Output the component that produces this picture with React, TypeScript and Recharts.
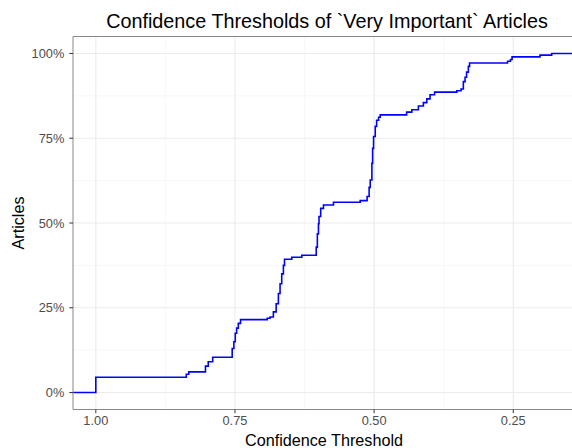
import { LineChart, Line, XAxis, YAxis, ReferenceLine } from 'recharts';

// ecdf of article confidence (threshold -> share of articles)
const thresholds = [
  1.041, 1.0, 0.8375, 0.833, 0.803, 0.798, 0.79,
  0.755, 0.752, 0.7495, 0.747, 0.744, 0.74,
  0.692, 0.687, 0.681, 0.676, 0.672, 0.669, 0.666, 0.663, 0.661, 0.648, 0.63,
  0.604, 0.602, 0.6, 0.599, 0.596, 0.591, 0.573, 0.525,
  0.5126, 0.509, 0.507, 0.504, 0.5027, 0.501, 0.498, 0.4955, 0.492, 0.489,
  0.4416, 0.4323, 0.4205, 0.4115, 0.4054, 0.3995, 0.3914,
  0.3515, 0.3438, 0.3397, 0.3366, 0.3339, 0.3307, 0.3285,
  0.2603, 0.255, 0.2522, 0.202, 0.181, 0.14,
];
const shares = [
  0, 0.045, 0.054, 0.061, 0.078, 0.091, 0.104,
  0.13, 0.15, 0.175, 0.19, 0.204, 0.215,
  0.219, 0.223, 0.238, 0.262, 0.292, 0.321, 0.35, 0.375, 0.393, 0.399, 0.405,
  0.429, 0.468, 0.498, 0.519, 0.543, 0.553, 0.561, 0.566,
  0.578, 0.605, 0.627, 0.676, 0.72, 0.755, 0.785, 0.803, 0.812, 0.819,
  0.827, 0.834, 0.845, 0.855, 0.866, 0.878, 0.886,
  0.89, 0.895, 0.917, 0.93, 0.945, 0.962, 0.972,
  0.977, 0.982, 0.99, 0.995, 1.0, 1.0,
];

const xTicks = [1, 0.75, 0.5, 0.25];
const xMinor = [0.875, 0.625, 0.375];
const yTicks = [0, 0.25, 0.5, 0.75, 1];
const yMinor = [0.125, 0.375, 0.625, 0.875];

const data = thresholds.map((t, i) => ({ t, share: shares[i] }));

const font = '"Liberation Sans", Arial, Helvetica, sans-serif';

export default function App() {
  return (
    <div
      style={{
        position: 'absolute',
        left: 0,
        top: 0,
        width: 572,
        height: 448,
        overflow: 'hidden',
        background: '#fff',
        fontFamily: font,
      }}
    >
      <LineChart
        width={576}
        height={448}
        data={data}
        margin={{ top: 36.5, right: 1.5, bottom: 0, left: 0 }}
        style={{ fontFamily: font }}
      >
        {xMinor.map((v) => (
          <ReferenceLine key={`xm-${v}`} x={v} stroke="#f3f3f3" strokeWidth={0.7} />
        ))}
        {yMinor.map((v) => (
          <ReferenceLine key={`ym-${v}`} y={v} stroke="#f3f3f3" strokeWidth={0.7} />
        ))}
        {xTicks.map((v) => (
          <ReferenceLine key={`xM-${v}`} x={v} stroke="#ebebeb" strokeWidth={1.1} />
        ))}
        {yTicks.map((v) => (
          <ReferenceLine key={`yM-${v}`} y={v} stroke="#ebebeb" strokeWidth={1.1} />
        ))}
        <ReferenceLine y={1.05} stroke="#888" strokeWidth={1} />
        <XAxis
          dataKey="t"
          type="number"
          domain={[0.14, 1.041]}
          reversed
          allowDataOverflow
          ticks={xTicks}
          interval={0}
          tickFormatter={(v: number) => v.toFixed(2)}
          height={38.5}
          tickSize={3.7}
          tickMargin={3}
          tick={{ fill: '#4d4d4d', fontSize: 12.8 }}
          axisLine={{ stroke: '#888' }}
          tickLine={{ stroke: '#333' }}
        />
        <YAxis
          type="number"
          domain={[-0.05, 1.05]}
          allowDataOverflow
          ticks={yTicks}
          interval={0}
          tickFormatter={(v: number) => `${Math.round(v * 100)}%`}
          width={73}
          tickSize={3.7}
          tickMargin={5}
          tick={{ fill: '#4d4d4d', fontSize: 12.8 }}
          axisLine={{ stroke: '#888' }}
          tickLine={{ stroke: '#333' }}
        />
        <Line
          type="stepAfter"
          dataKey="share"
          stroke="#0000ff"
          strokeWidth={1.6}
          dot={false}
          isAnimationActive={false}
        />
      </LineChart>
      <div
        style={{
          position: 'absolute',
          left: 327,
          top: 11,
          transform: 'translateX(-50%)',
          whiteSpace: 'nowrap',
          fontSize: 19.8,
          lineHeight: '20px',
          color: '#000',
        }}
      >
        Confidence Thresholds of `Very Important` Articles
      </div>
      <div
        style={{
          position: 'absolute',
          left: 324,
          top: 432,
          transform: 'translateX(-50%)',
          whiteSpace: 'nowrap',
          fontSize: 16.2,
          lineHeight: '16px',
          color: '#000',
        }}
      >
        Confidence Threshold
      </div>
      <div
        style={{
          position: 'absolute',
          left: 18,
          top: 223,
          transform: 'translate(-50%, -50%) rotate(-90deg)',
          whiteSpace: 'nowrap',
          fontSize: 16.2,
          lineHeight: '16px',
          color: '#000',
        }}
      >
        Articles
      </div>
    </div>
  );
}
